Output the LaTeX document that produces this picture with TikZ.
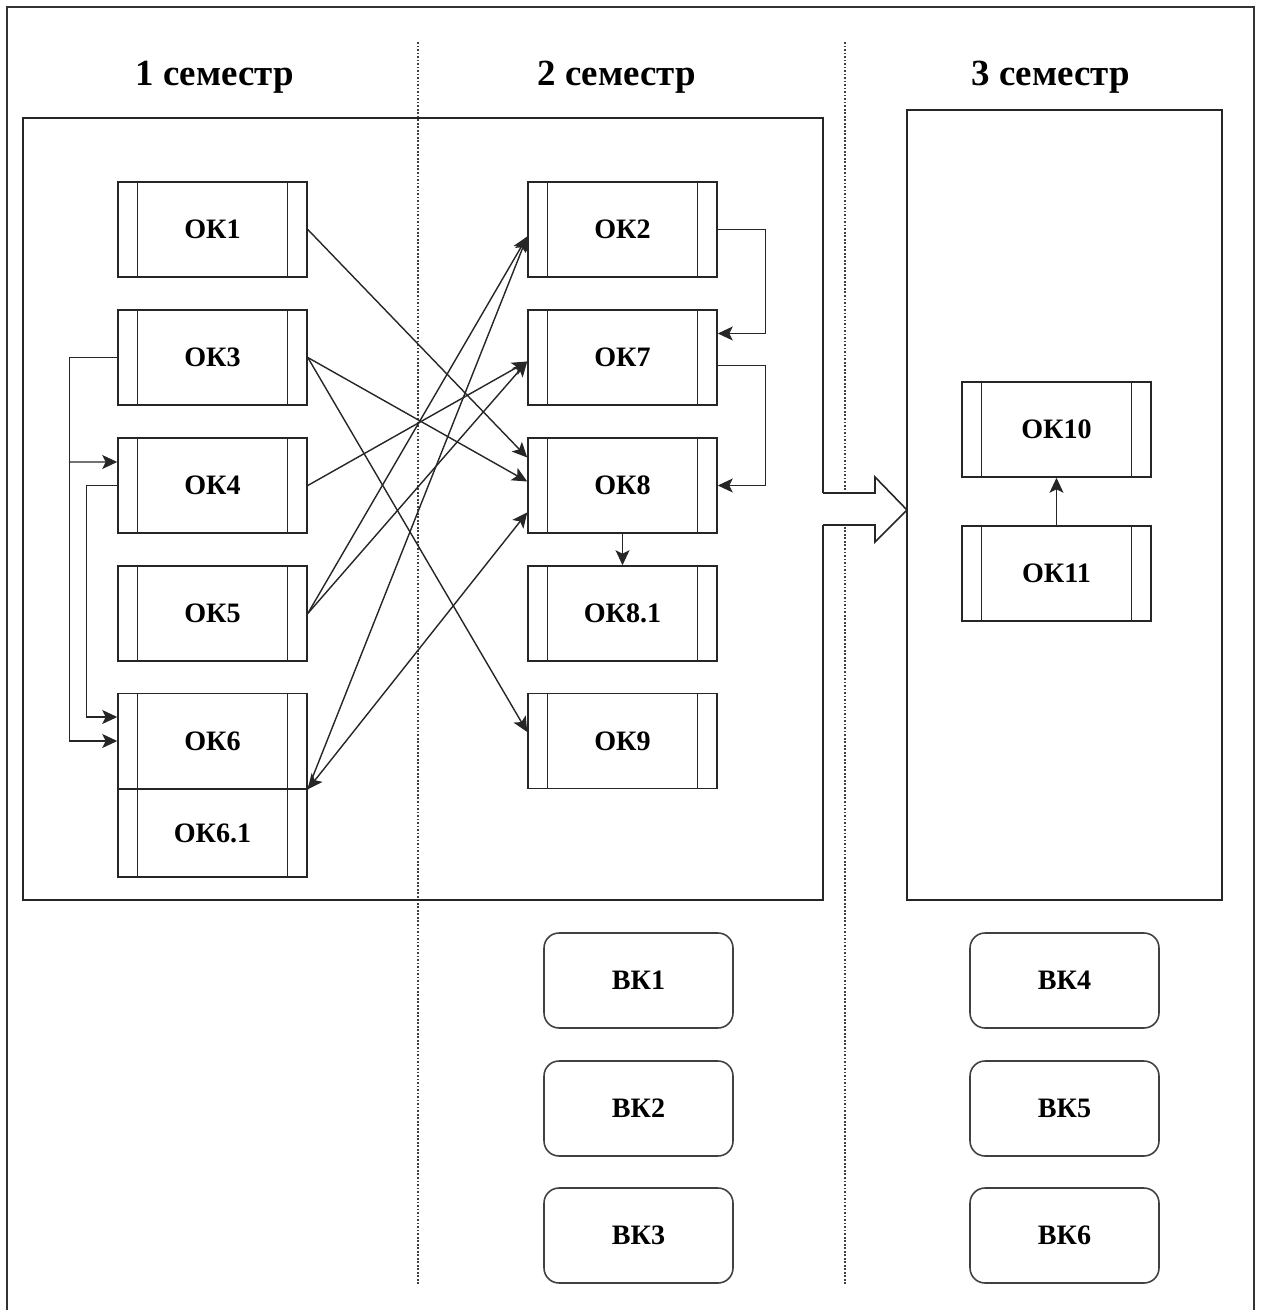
\documentclass[tikz,border=0pt]{standalone}
\usepackage{fontspec}
\setmainfont{Liberation Serif}
\usetikzlibrary{arrows.meta,calc}

\tikzset{
    okbox/.style={draw=black!85, line width=0.9pt, minimum width=3.78cm,
        minimum height=1.9cm, inner sep=0pt,
        font=\fontsize{16}{18}\selectfont\bfseries,
        path picture={
            \draw[black!85, line width=0.9pt]
                ([xshift=0.39cm]path picture bounding box.north west) --
                ([xshift=0.39cm]path picture bounding box.south west);
            \draw[black!85, line width=0.9pt]
                ([xshift=-0.39cm]path picture bounding box.north east) --
                ([xshift=-0.39cm]path picture bounding box.south east);
        }},
    vkbox/.style={draw=black!75, line width=0.9pt, rounded corners=0.3cm,
        minimum width=3.78cm, minimum height=1.9cm, inner sep=0pt,
        font=\fontsize{16}{18}\selectfont\bfseries},
    semtitle/.style={anchor=base, font=\fontsize{21}{24}\selectfont\bfseries},
    tip/.style={Stealth[length=3mm,width=2.8mm,inset=0.7mm]},
    link/.style={black!85, line width=0.8pt, -{Stealth[length=3mm,width=2.8mm,inset=0.7mm]}},
    sepline/.style={black!75, line width=1pt, densely dotted}
}

\begin{document}
\begin{tikzpicture}[x=0.02cm, y=-0.02cm]

    \useasboundingbox (0,0) rectangle (1261,1310);

    % Outer frame (open at the bottom)
    \draw[black!80, line width=1.3pt] (7,1310) -- (7,7) -- (1254,7) -- (1254,1310);

    % Semester separators
    \draw[sepline] (418,42) -- (418,1285);
    \draw[sepline] (845,42) -- (845,1285);

    % Semester titles
    \node[semtitle] (sem1) at (214.5,86) {1 семестр};
    \node[semtitle] (sem2) at (616.5,86) {2 семестр};
    \node[semtitle] (sem3) at (1050.5,86) {3 семестр};

    % Block of semesters 1-2, open where the big arrow leaves it
    \draw[black!85, line width=0.9pt] (823,493) -- (823,118) -- (23,118) -- (23,900) -- (823,900) -- (823,525);

    % Block of semester 3
    \draw[black!85, line width=0.9pt] (907,110) rectangle (1222,900);

    % Big arrow between blocks
    \draw[black!85, line width=0.9pt, fill=white]
        (823,493) -- (875,493) -- (875,477) -- (907,510) -- (875,542) -- (875,525) -- (823,525);

    % Semester 1 components
    \node[okbox] (ok1) at (212.5,229.5) {ОК1};
    \node[okbox] (ok3) at (212.5,357.5) {ОК3};
    \node[okbox] (ok4) at (212.5,485.5) {ОК4};
    \node[okbox] (ok5) at (212.5,613.5) {ОК5};
    \node[okbox] (ok6) at (212.5,741) {ОК6};
    \node[okbox, minimum height=1.76cm] (ok61) at (212.5,833) {ОК6.1};

    % Semester 2 components
    \node[okbox] (ok2) at (622.5,229.5) {ОК2};
    \node[okbox] (ok7) at (622.5,357.5) {ОК7};
    \node[okbox] (ok8) at (622.5,485.5) {ОК8};
    \node[okbox] (ok81) at (622.5,613.5) {ОК8.1};
    \node[okbox] (ok9) at (622.5,741) {ОК9};

    % Semester 3 components
    \node[okbox] (ok10) at (1056.5,429.5) {ОК10};
    \node[okbox] (ok11) at (1056.5,573.5) {ОК11};

    % Elective components
    \foreach \n/\y in {1/980.5, 2/1108.5, 3/1235.5} {
        \node[vkbox] (vk\n) at (638.5,\y) {ВК\n};
    }
    \foreach \n/\y in {4/980.5, 5/1108.5, 6/1235.5} {
        \node[vkbox] (vk\n) at (1064.5,\y) {ВК\n};
    }

    % Links from semester 1 to semester 2
    \draw[link] (ok1.east) -- ($(ok8.west)+(0,-28)$);
    \draw[link] (ok3.east) -- ($(ok8.west)+(0,-4)$);
    \draw[link] (ok3.east) -- ($(ok9.west)+(0,-9)$);
    \draw[link] (ok4.east) -- ($(ok7.west)+(0,4)$);
    \draw[link] (ok5.east) -- ($(ok7.west)+(0,4)$);
    \draw[link] (ok5.east) -- ($(ok2.west)+(0,7)$);
    \draw[link] (ok6.south east) -- ($(ok2.west)+(0,7)$);
    \draw[link, {Stealth[length=3mm,width=2.8mm,inset=0.7mm]}-{Stealth[length=3mm,width=2.8mm,inset=0.7mm]}]
        (ok6.south east) -- ($(ok8.west)+(0,27)$);

    % Links inside semester 1
    \draw[link] (ok3.west) -- ++(-48,0) |- (ok6.west);
    \coordinate (bus3) at ($(ok3.west)+(-48,104.5)$);
    \draw[link] (bus3) -- ($(ok4.west)+(0,-23.5)$);
    \draw[link] (ok4.west) -- ++(-31,0) |- ($(ok6.west)+(0,-24)$);

    % Links inside semester 2
    \draw[link] (ok2.east) -- ++(48,0) |- ($(ok7.east)+(0,-24)$);
    \draw[link] ($(ok7.east)+(0,8)$) -- ++(48,0) |- (ok8.east);
    \draw[link] (ok8.south) -- (ok81.north);

    % Link inside semester 3
    \draw[link] (ok11.north) -- (ok10.south);

\end{tikzpicture}
\end{document}
